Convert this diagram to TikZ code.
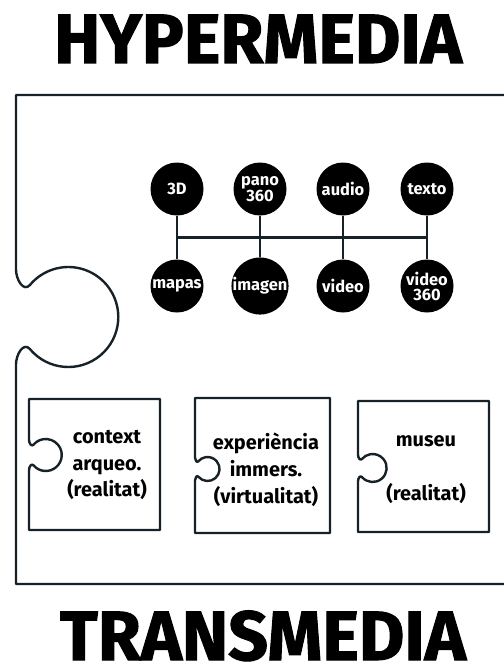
\documentclass[tikz,border=0pt]{standalone}
\usepackage{fontspec}
\setmainfont{Fira Sans}
\newfontfamily\titlefont[BoldFeatures={FakeBold=1.5}]{Fira Sans}
\usepackage{tikz}
\usetikzlibrary{calc}
\definecolor{outlineInk}{RGB}{22,34,40}

% knob cut into a left edge, walked from bottom to top
\newcommand{\knobup}[3]{%
  -- (#1,{#2+0.95*#3})
  .. controls (#1,{#2+0.75*#3}) and ({#1+0.15*#3},{#2+0.49*#3}) .. ({#1+0.28*#3},{#2+0.643*#3})
  arc[start angle=140, end angle=-140, radius=#3]
  .. controls ({#1+0.15*#3},{#2-0.49*#3}) and (#1,{#2-0.75*#3}) .. (#1,{#2-0.95*#3})}

\tikzset{
  media/.style={circle, fill=black, text=white, minimum size=53bp, inner sep=0pt,
    align=center, font=\bfseries\fontsize{16.5}{15}\selectfont},
  link/.style={line width=2.4bp, draw=outlineInk},
  piece/.style={line width=2.4bp, draw=outlineInk, line join=round},
  piecetext/.style={align=center, font=\bfseries\fontsize{20}{27}\selectfont},
  bigtitle/.style={anchor=base, inner sep=0pt, font=\titlefont\bfseries\fontsize{70}{70}\selectfont}
}

\begin{document}
\begin{tikzpicture}[x=1bp, y=-1bp]
  \useasboundingbox (0,0) rectangle (504,663);

  % titles
  \node[bigtitle] (hyper) at (258,63) {HYPERMEDIA};
  \node[bigtitle] (trans) at (263,660) {TRANSMEDIA};

  % big piece, open to the right
  \draw[piece] (510,584) -- (16,584) \knobup{16}{317}{50} -- (16,95) -- (510,95);

  % media circles
  \node[media] (td)    at (177,189) {3D};
  \node[media] (pano)  at (260,189) {pano\\360};
  \node[media] (audio) at (343,189) {audio};
  \node[media] (texto) at (427,189) {texto};
  \node[media] (mapas) at (177,286) {mapas};
  \node[media] (img)   at (260,286) {imagen};
  \node[media] (video) at (343,286) {video};
  \node[media] (v360)  at (427,286) {video\\360};

  % links between them
  \draw[link] (td.south) -- (mapas.north);
  \draw[link] (pano.south) -- (img.north);
  \draw[link] (audio.south) -- (video.north);
  \draw[link] (texto.south) -- (v360.north);
  \draw[link] ($(td.south)!0.5!(mapas.north)$) -- ($(texto.south)!0.5!(v360.north)$);

  % small pieces
  \draw[piece] (29,399) -- (160,399) -- (160,530) -- (29,530) \knobup{29}{455}{16} -- cycle;
  \draw[piece] (195,398) -- (330,398) -- (330,533) -- (195,533) \knobup{195}{469}{12} -- cycle;
  \draw[piece] (358,401) -- (489,401) -- (489,532) -- (358,532) \knobup{358}{468}{14} -- cycle;

  \node[piecetext] (ctx) at (107,465) {context\\arqueo.\\(realitat)};
  \node[piecetext] (exp) at (266,470) {experiència\\immers.\\(virtualitat)};
  \node[piecetext] (mus) at (426,470) {museu\\[27bp](realitat)};
\end{tikzpicture}
\end{document}
